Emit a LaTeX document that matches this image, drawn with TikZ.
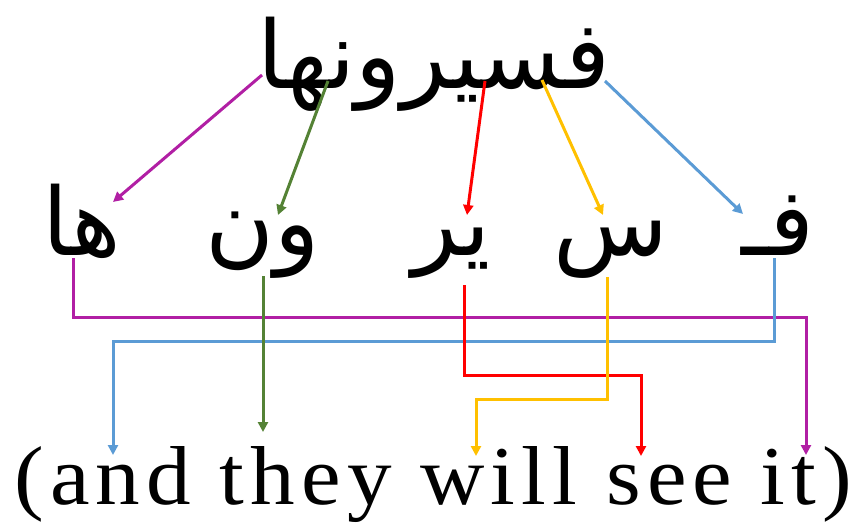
\documentclass[tikz,border=0pt]{standalone}
\usepackage{fontspec}
\usetikzlibrary{arrows.meta}
\TeXXeTstate=1
\newfontfamily\arabicfont[Script=Arabic]{DejaVu Sans}
\newfontfamily\enfont[LetterSpace=7]{Liberation Serif}
\definecolor{cpurple}{RGB}{177,31,164}
\definecolor{cgreen}{RGB}{84,130,53}
\definecolor{cred}{RGB}{255,0,0}
\definecolor{cyellow}{RGB}{255,192,0}
\definecolor{cblue}{RGB}{91,155,213}
\begin{document}
\begin{tikzpicture}[x=1pt,y=-1pt,
  conn/.style={line width=3pt,-{Triangle[width=10pt,length=10pt]}},
  ar/.style={inner sep=0pt,anchor=base,font=\arabicfont\fontsize{94}{100}\selectfont}]
\useasboundingbox (0,0) rectangle (855,524);

% top word
\node[ar] (word) at (434,89) {\beginR فسيرونها\endR};

% morphemes
\node[ar] (ha) at (82,255) {\beginR ها\endR};
\node[ar] (wn) at (263,255) {\beginR ون\endR};
\node[ar] (yr) at (452,255) {\beginR ير\endR};
\node[ar] (s)  at (611,255) {\beginR س\endR};
\node[ar] (fa) at (778,255) {\beginR فـ\endR};

% translation
\node[inner sep=0pt,anchor=base west] (eng) at (14,504)
  {\resizebox{838pt}{58pt}{\enfont (and they will see it)}};

% points on the top word
\coordinate (wHa) at (262,75);
\coordinate (wWn) at (328,81);
\coordinate (wYr) at (485,81);
\coordinate (wS)  at (542,80);
\coordinate (wFa) at (605,81);
% arrow ends above the morphemes
\coordinate (tHa) at (113,202);
\coordinate (tWn) at (278,215);
\coordinate (tYr) at (467,215);
\coordinate (tS)  at (603,215);
\coordinate (tFa) at (743,214);
% points under the morphemes
\coordinate (bHa) at (73,258);
\coordinate (bWn) at (263,276);
\coordinate (bYr) at (464,285);
\coordinate (bS)  at (607,277);
\coordinate (bFa) at (774,258);
% arrow ends above the translation
\coordinate (eAnd)  at (113,455);
\coordinate (eThey) at (263,432);
\coordinate (eWill) at (476,456);
\coordinate (eSee)  at (641,456);
\coordinate (eIt)   at (806,455);

% top arrows
\draw[conn,cpurple] (wHa) -- (tHa);
\draw[conn,cgreen]  (wWn) -- (tWn);
\draw[conn,cred]    (wYr) -- (tYr);
\draw[conn,cyellow] (wS)  -- (tS);
\draw[conn,cblue]   (wFa) -- (tFa);

% bottom arrows
\draw[conn,cpurple] (bHa) -- ++(0,59) -| (eIt);
\draw[conn,cblue]   (bFa) -- ++(0,83) -| (eAnd);
\draw[conn,cgreen]  (bWn) -- (eThey);
\draw[conn,cred]    (bYr) -- ++(0,90) -| (eSee);
\draw[conn,cyellow] (bS)  -- ++(0,122) -| (eWill);
\end{tikzpicture}
\end{document}
